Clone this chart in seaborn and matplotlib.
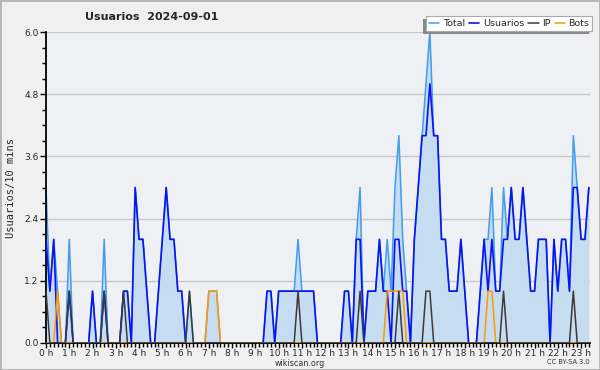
import matplotlib
matplotlib.use("Agg")
import matplotlib.pyplot as plt
import seaborn as sns
import pandas as pd
from matplotlib.ticker import MultipleLocator, FixedLocator, FormatStrFormatter
from matplotlib.patches import Rectangle

# ---- data (10-minute slots from 00:00 to 23:20) ----
total = [3, 1, 2, 1, 0, 0, 2, 0, 0, 0, 0, 0, 1, 0, 0, 2, 0, 0, 0, 0,
         1, 1, 0, 3, 2, 2, 1, 0, 0, 1, 2, 3, 2, 2, 1, 1, 0, 1, 0, 0,
         0, 0, 1, 1, 1, 0, 0, 0, 0, 0, 0, 0, 0, 0, 0, 0, 0, 1, 1, 0,
         1, 1, 1, 1, 1, 2, 1, 1, 1, 1, 0, 0, 0, 0, 0, 0, 0, 1, 1, 0,
         2, 3, 0, 1, 1, 1, 2, 1, 2, 1, 3, 4, 2, 1, 0, 2, 3, 4, 5, 6,
         4, 4, 2, 2, 1, 1, 1, 2, 1, 0, 0, 0, 1, 2, 2, 3, 1, 1, 3, 2,
         3, 2, 2, 3, 2, 1, 1, 2, 2, 2, 0, 2, 1, 2, 2, 1, 4, 3, 2, 2,
         3]
usuarios = [2, 1, 2, 0, 0, 0, 1, 0, 0, 0, 0, 0, 1, 0, 0, 1, 0, 0, 0, 0,
            1, 1, 0, 3, 2, 2, 1, 0, 0, 1, 2, 3, 2, 2, 1, 1, 0, 0, 0, 0,
            0, 0, 0, 0, 0, 0, 0, 0, 0, 0, 0, 0, 0, 0, 0, 0, 0, 1, 1, 0,
            1, 1, 1, 1, 1, 1, 1, 1, 1, 1, 0, 0, 0, 0, 0, 0, 0, 1, 1, 0,
            2, 2, 0, 1, 1, 1, 2, 1, 1, 0, 2, 2, 1, 1, 0, 2, 3, 4, 4, 5,
            4, 4, 2, 2, 1, 1, 1, 2, 1, 0, 0, 0, 1, 2, 1, 2, 1, 1, 2, 2,
            3, 2, 2, 3, 2, 1, 1, 2, 2, 2, 0, 2, 1, 2, 2, 1, 3, 3, 2, 2,
            3]
ip = [1, 0, 0, 0, 0, 0, 1, 0, 0, 0, 0, 0, 0, 0, 0, 1, 0, 0, 0, 0,
      1, 0, 0, 0, 0, 0, 0, 0, 0, 0, 0, 0, 0, 0, 0, 0, 0, 1, 0, 0,
      0, 0, 0, 0, 0, 0, 0, 0, 0, 0, 0, 0, 0, 0, 0, 0, 0, 0, 0, 0,
      0, 0, 0, 0, 0, 1, 0, 0, 0, 0, 0, 0, 0, 0, 0, 0, 0, 0, 0, 0,
      0, 1, 0, 0, 0, 0, 0, 0, 0, 0, 0, 1, 0, 0, 0, 0, 0, 0, 1, 1,
      0, 0, 0, 0, 0, 0, 0, 0, 0, 0, 0, 0, 0, 0, 0, 0, 0, 0, 1, 0,
      0, 0, 0, 0, 0, 0, 0, 0, 0, 0, 0, 0, 0, 0, 0, 0, 1, 0, 0, 0,
      0]
bots = [0, 0, 0, 1, 0, 0, 0, 0, 0, 0, 0, 0, 0, 0, 0, 0, 0, 0, 0, 0,
        0, 0, 0, 0, 0, 0, 0, 0, 0, 0, 0, 0, 0, 0, 0, 0, 0, 0, 0, 0,
        0, 0, 1, 1, 1, 0, 0, 0, 0, 0, 0, 0, 0, 0, 0, 0, 0, 0, 0, 0,
        0, 0, 0, 0, 0, 0, 0, 0, 0, 0, 0, 0, 0, 0, 0, 0, 0, 0, 0, 0,
        0, 0, 0, 0, 0, 0, 0, 0, 1, 1, 1, 1, 1, 0, 0, 0, 0, 0, 0, 0,
        0, 0, 0, 0, 0, 0, 0, 0, 0, 0, 0, 0, 0, 0, 1, 1, 0, 0, 0, 0,
        0, 0, 0, 0, 0, 0, 0, 0, 0, 0, 0, 0, 0, 0, 0, 0, 0, 0, 0, 0,
        0]
hours = list(range(24))
hour_labels = [f"{h} h" for h in hours]
title = "Usuarios  2024-09-01"
ylabel = "Usuarios/10 mins"

df = pd.DataFrame({"slot": range(len(total)), "Total": total,
                   "Usuarios": usuarios, "IP": ip, "Bots": bots})

sns.set_style("white")
plt.rcParams["font.family"] = ["DejaVu Sans"]

FIG_BG = "#f0f0f0"
AX_BG = "#eef0f3"
C_TOTAL = "#3f9cf0"
C_FILL = "#c6dcf0"
C_USR = "#0a14f0"
C_IP = "#3a3a3a"
C_BOT = "#ff9900"

fig = plt.figure(figsize=(6.0, 3.7), dpi=100, facecolor=FIG_BG)
ax = fig.add_axes([46/600, 1-343/370, (590-46)/600, (343-32)/370])
ax.set_facecolor(AX_BG)

ax.fill_between(df["slot"], df["Total"], 0, color=C_FILL, linewidth=0, zorder=1)
sns.lineplot(data=df, x="slot", y="Total", color=C_TOTAL, linewidth=1.1,
             label="Total", ax=ax, zorder=2)
sns.lineplot(data=df, x="slot", y="Usuarios", color=C_USR, linewidth=1.2,
             label="Usuarios", ax=ax, zorder=3)
sns.lineplot(data=df, x="slot", y="Bots", color=C_BOT, linewidth=1.1,
             label="Bots", ax=ax, zorder=4)
sns.lineplot(data=df, x="slot", y="IP", color=C_IP, linewidth=1.1,
             label="IP", ax=ax, zorder=5)

ax.set_xlim(0, 140.3)
ax.set_ylim(0, 6.0)
ax.set_xlabel("")
ax.set_ylabel(ylabel, fontsize=7.5, family="DejaVu Sans Mono", labelpad=6)

ax.xaxis.set_major_locator(FixedLocator([h * 6 for h in hours]))
ax.set_xticklabels(hour_labels)
ax.xaxis.set_minor_locator(MultipleLocator(1))
ax.yaxis.set_major_locator(MultipleLocator(1.2))
ax.yaxis.set_minor_locator(MultipleLocator(0.3))
ax.yaxis.set_major_formatter(FormatStrFormatter("%.1f"))
ax.tick_params(axis="both", which="major", labelsize=6.5, length=4, width=1,
               color="black", pad=1.5, direction="out")
ax.tick_params(axis="x", which="major", pad=0.5, length=3.5)
ax.tick_params(axis="both", which="minor", length=3, width=1, color="black",
               direction="out")
ax.tick_params(axis="x", which="both", bottom=True)
ax.tick_params(axis="y", which="both", left=True)

ax.grid(axis="y", which="major", color="#c8c8c8", linewidth=1)
ax.grid(axis="x", visible=False)
for s in ["top", "right"]:
    ax.spines[s].set_visible(False)
for s in ["left", "bottom"]:
    ax.spines[s].set_color("black")
    ax.spines[s].set_linewidth(1.3)

# legend in the requested order
handles, labels = ax.get_legend_handles_labels()
order = ["Total", "Usuarios", "IP", "Bots"]
hmap = dict(zip(labels, handles))
leg = ax.legend([hmap[k] for k in order], order, ncol=4, loc="upper right",
                bbox_to_anchor=(592/600, 1-16/370), bbox_transform=fig.transFigure,
                frameon=True, fancybox=False, fontsize=6.8, handlelength=1.1,
                handletextpad=0.35, columnspacing=0.45, borderpad=0.3,
                borderaxespad=0)
leg.get_frame().set_facecolor("white")
leg.get_frame().set_edgecolor("#aaaaaa")
leg.get_frame().set_linewidth(0.8)
leg.get_frame().set_alpha(1)
leg.set_zorder(10)

fig.canvas.draw()
bb = leg.get_window_extent().transformed(fig.transFigure.inverted())
shadow = Rectangle((bb.x0 - 3/600, bb.y0 - 3/370), bb.width, bb.height,
                   transform=fig.transFigure, facecolor="#888888",
                   edgecolor="none", zorder=9, clip_on=False)
ax.add_artist(shadow)

fig.text(85/600, 1-17/370, title, fontsize=8, fontweight="bold",
         ha="left", va="center")
fig.text(300/600, 1-363/370, "wikiscan.org", fontsize=5.8, ha="center",
         va="center", color="#333333")
fig.text(590/600, 1-362/370, "CC BY-SA 3.0", fontsize=4.8, ha="right",
         va="center", color="#333333")
fig.patches.append(Rectangle((0, 0), 1, 1, transform=fig.transFigure,
                             facecolor="none", edgecolor="#b4b4b4",
                             linewidth=2, zorder=20))

fig.savefig("out.png", dpi=100, facecolor=FIG_BG)
